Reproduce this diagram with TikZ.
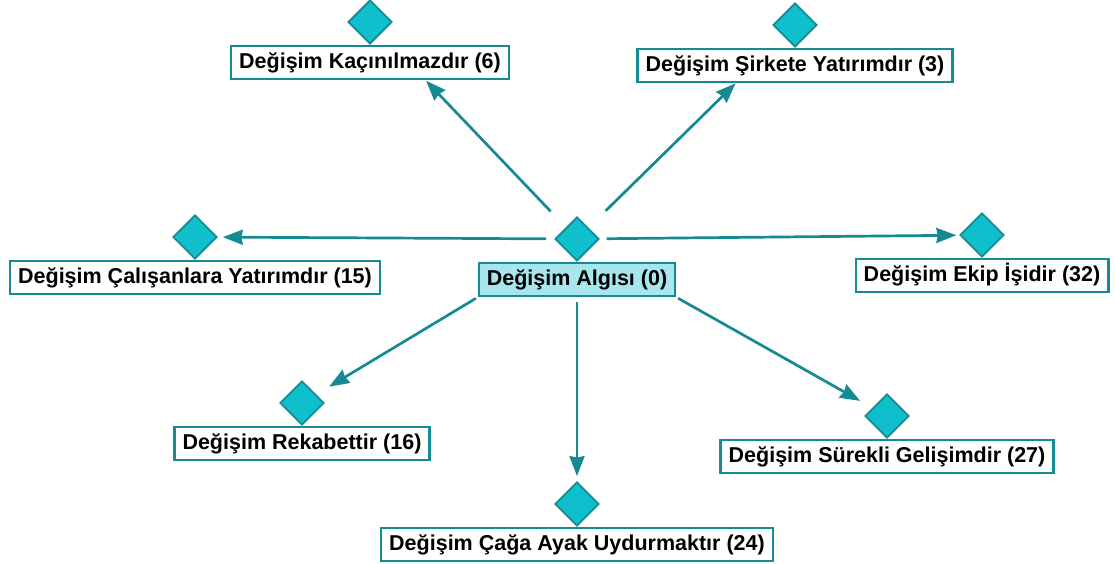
\documentclass[tikz,border=0pt]{standalone}
\usepackage{fontspec}
\setmainfont{Liberation Sans}
\usepackage{tikz}
\usetikzlibrary{arrows.meta,positioning,shapes}
\definecolor{linecol}{HTML}{158A92}
\definecolor{diafill}{HTML}{0FC0CC}
\definecolor{boxfill}{HTML}{A8E6EE}

\begin{document}
\begin{tikzpicture}[x=1pt,y=-1pt,
    post/.style={-{Stealth[length=20pt,width=15pt,inset=1.5pt]},line width=2.7pt,draw=linecol,fill=linecol},
    dia/.style={diamond,draw=linecol,fill=diafill,line width=1.8pt,minimum width=44pt,minimum height=44pt,inner sep=0pt},
    lbl/.style={draw=linecol,fill=white,line width=2.4pt,minimum height=33pt,inner xsep=8pt,inner ysep=0pt,
        text height=16pt,text depth=4.5pt,font=\fontsize{21.5}{24}\selectfont\bfseries}
    ]
\useasboundingbox (0,0) rectangle (1115,564);

\node[dia] (algi) at (577,239) {};
\node[lbl,fill=boxfill,below=0pt of algi](Algi){Değişim Algısı (0)};

\node[dia] (kacinilmaz) at (370,22) {};
\node[lbl,below=0pt of kacinilmaz](Kacinilmaz){Değişim Kaçınılmazdır (6)};

\node[dia] (sirket) at (795,25) {};
\node[lbl,below=0pt of sirket](Sirket){Değişim Şirkete Yatırımdır (3)};

\node[dia] (calisan) at (195,237) {};
\node[lbl,below=0pt of calisan](Calisan){Değişim Çalışanlara Yatırımdır (15)};

\node[dia] (ekip) at (982,235) {};
\node[lbl,below=0pt of ekip](Ekip){Değişim Ekip İşidir (32)};

\node[dia] (rekabet) at (302,403) {};
\node[lbl,below=0pt of rekabet](Rekabet){Değişim Rekabettir (16)};

\node[dia] (cag) at (577,504) {};
\node[lbl,below=0pt of cag](Cag){Değişim Çağa Ayak Uydurmaktır (24)};

\node[dia] (gelisim) at (887,416) {};
\node[lbl,below=0pt of gelisim](Gelisim){Değişim Sürekli Gelişimdir (27)};

 \draw[post,shorten <=22pt,shorten >=65pt] (algi) -- (kacinilmaz);
 \draw[post,shorten <=24pt,shorten >=67pt] (algi) -- (sirket);
 \draw[post,shorten <=8pt,shorten >=5pt] (algi) -- (calisan);
 \draw[post,shorten <=7pt,shorten >=3pt] (algi) -- (ekip);
 \draw[post,shorten <=2pt,shorten >=15pt] (Algi.south west) -- (rekabet);
 \draw[post,shorten <=5pt,shorten >=5pt] (Algi.south) -- (cag);
 \draw[post,shorten <=2pt,shorten >=14pt] (Algi.south east) -- (gelisim);

\end{tikzpicture}
\end{document}
